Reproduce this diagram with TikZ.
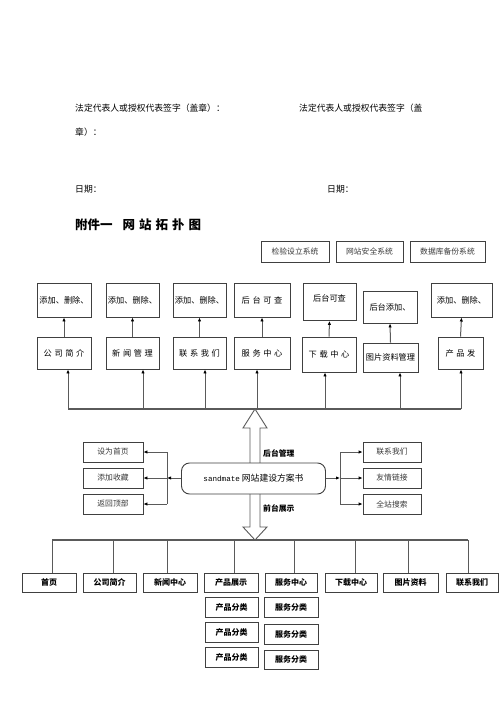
\documentclass[tikz,border=0pt]{standalone}
\usepackage{fontspec}
\setmainfont{Noto Sans CJK SC}
\newfontfamily\monof{Liberation Mono}
\usetikzlibrary{arrows.meta}
\definecolor{boxc}{HTML}{404040}
\definecolor{linec}{HTML}{5A5A5A}
\definecolor{txtg}{HTML}{3A3A3A}
\newcommand{\gp}{\hspace{2.6pt}}
\tikzset{
  bx/.style={draw=boxc, line width=0.9pt, fill=white, inner sep=0pt, font=\fontsize{8.2}{9}\selectfont, text=black},
  smb/.style={draw=boxc, line width=0.8pt, fill=white, inner sep=0pt, font=\fontsize{7.8}{9}\selectfont, text=txtg},
  btm/.style={draw=boxc, line width=1pt, fill=white, inner sep=0pt, font=\fontsize{8}{9}\selectfont\bfseries, text=black},
  conn/.style={draw=linec, line width=1pt, -{Latex[length=4pt,width=3.4pt,color=black]}},
  bus/.style={draw=linec, line width=1.4pt},
  thin/.style={draw=linec, line width=0.9pt},
  lbl/.style={anchor=west, inner sep=0pt, font=\fontsize{8.8}{10}\selectfont}
}
\begin{document}
\begin{tikzpicture}[x=1pt,y=-1pt]
\useasboundingbox (0,0) rectangle (500,708);
\fill[white] (0,0) rectangle (500,708);
% header texts
\node[lbl] (s1) at (75,108) {法定代表人或授权代表签字（盖章）：};
\node[lbl] (s2) at (299,108) {法定代表人或授权代表签字（盖};
\node[lbl] (s3) at (75,132) {章）：};
\node[lbl] (d1) at (75,189) {日期：};
\node[lbl] (d2) at (327,189) {日期：};
\node[anchor=west, inner sep=0pt, font=\fontsize{12.5}{14}\selectfont\bfseries] (title) at (75,225) {附件一\hspace{10pt}网\hspace{4pt}站\hspace{4pt}拓\hspace{4pt}扑\hspace{4pt}图};
% top system boxes
\node[smb, minimum width=68pt, minimum height=21pt] (t1) at (295,251.5) {检验设立系统};
\node[smb, minimum width=67pt, minimum height=21pt] (t2) at (369.5,251.5) {网站安全系统};
\node[smb, minimum width=75pt, minimum height=21pt] (t3) at (447.5,251.5) {数据库备份系统};
% row 1
\node[bx, minimum width=54pt, minimum height=34pt] (r1a) at (64,300) {添加、删除、};
\node[bx, minimum width=53pt, minimum height=34pt] (r1b) at (132.5,300) {添加、删除、};
\node[bx, minimum width=53pt, minimum height=34pt] (r1c) at (199.5,300) {添加、删除、};
\node[bx, minimum width=56pt, minimum height=34pt] (r1d) at (262,300) {后\gp 台\gp 可\gp 查};
\node[bx, minimum width=53pt, minimum height=37pt, anchor=north] (r1e) at (329.5,283) {};
\node[anchor=center, inner sep=0pt, font=\fontsize{8.2}{9}\selectfont, text=black] (r1et) at (329.5,298) {后台可查};
\node[bx, minimum width=54pt, minimum height=32pt] (r1f) at (390,307) {后台添加、};
\node[bx, minimum width=61pt, minimum height=34pt] (r1g) at (461.5,300) {添加、删除、};
% row 2
\node[bx, minimum width=54pt, minimum height=32pt] (r2a) at (64,353) {公\gp 司\gp 简\gp 介};
\node[bx, minimum width=53pt, minimum height=32pt] (r2b) at (132.5,353) {新\gp 闻\gp 管\gp 理};
\node[bx, minimum width=53pt, minimum height=32pt] (r2c) at (199.5,353) {联\gp 系\gp 我\gp 们};
\node[bx, minimum width=56pt, minimum height=32pt] (r2d) at (262,353) {服\gp 务\gp 中\gp 心};
\node[bx, minimum width=54pt, minimum height=35pt] (r2e) at (329,354.5) {下\gp 载\gp 中\gp 心};
\node[bx, minimum width=55pt, minimum height=29pt] (r2f) at (390.5,357.5) {图片资料管理};
\node[bx, minimum width=45pt, minimum height=32pt] (r2g) at (460.5,353) {产\gp 品\gp 发};
% row2 -> row1 arrows
\foreach \n in {a,b,c,d,e,f,g}{\draw[conn] (r2\n.north) -- (r1\n.south);}
% top bus
\coordinate (ba) at (68,409);
\coordinate (bb) at (143,409);
\coordinate (bc) at (205,409);
\coordinate (bd) at (257,409);
\coordinate (be) at (325,409);
\coordinate (bf) at (400,409);
\coordinate (bg) at (461,409);
\draw[bus] (ba) -- (bg);
\foreach \n in {a,b,c,d,e,f,g}{\draw[conn] (b\n) -- (b\n |- r2\n.south);}
% hollow double arrow
\draw[draw=linec, line width=0.9pt, fill=white] (255,409) -- (267,428) -- (260,428) -- (260,527) -- (267,527) -- (255,540) -- (243,527) -- (250,527) -- (250,428) -- (243,428) -- cycle;
\node[anchor=west, inner sep=0pt, font=\fontsize{7.8}{9}\selectfont\bfseries] (lb1) at (263,453) {后台管理};
\node[anchor=west, inner sep=0pt, font=\fontsize{7.8}{9}\selectfont\bfseries] (lb2) at (263,508) {前台展示};
% center box
\node[draw=boxc, line width=0.9pt, fill=white, rounded corners=8pt, minimum width=144pt, minimum height=31pt, inner sep=0pt, font=\fontsize{8.8}{10}\selectfont] (ctr) at (253.5,478.5) {{\monof\fontsize{7.6}{9}\selectfont sandmate} 网站建设方案书};
% left small boxes
\node[smb, minimum width=60pt, minimum height=20pt] (l1) at (113,452) {设为首页};
\node[smb, minimum width=60pt, minimum height=20pt] (l2) at (113,478) {添加收藏};
\node[smb, minimum width=60pt, minimum height=20pt] (l3) at (113,504) {返回顶部};
\coordinate (lj) at (167,478);
\draw[conn] (ctr.west |- lj) -- (lj);
\draw[thin] (lj |- l1) -- (lj |- l3);
\foreach \n in {1,2,3}{\draw[conn] (lj |- l\n) -- (l\n.east);}
% right small boxes
\node[smb, minimum width=58pt, minimum height=20pt] (q1) at (392,452) {联系我们};
\node[smb, minimum width=58pt, minimum height=20pt] (q2) at (392,478) {友情链接};
\node[smb, minimum width=58pt, minimum height=20pt] (q3) at (392,504) {全站搜索};
\coordinate (rj) at (340,478);
\draw[conn] (ctr.east |- rj) -- (rj);
\draw[thin] (rj |- q1) -- (rj |- q3);
\foreach \n in {1,2,3}{\draw[conn] (rj |- q\n) -- (q\n.west);}
% bottom bus and boxes
\node[btm, minimum width=54pt, minimum height=19pt] (p1) at (49,582.5) {首页};
\node[btm, minimum width=53pt, minimum height=19pt] (p2) at (109.5,582.5) {公司简介};
\node[btm, minimum width=54pt, minimum height=19pt] (p3) at (170,582.5) {新闻中心};
\node[btm, minimum width=54pt, minimum height=19pt] (p4) at (231,582.5) {产品展示};
\node[btm, minimum width=52pt, minimum height=19pt] (p5) at (291,582.5) {服务中心};
\node[btm, minimum width=52pt, minimum height=19pt] (p6) at (351,582.5) {下载中心};
\node[btm, minimum width=55pt, minimum height=19pt] (p7) at (410.5,582.5) {图片资料};
\node[btm, minimum width=52pt, minimum height=19pt] (p8) at (472,582.5) {联系我们};
\coordinate (c1) at (52,540);
\coordinate (c2) at (113,540);
\coordinate (c3) at (167,540);
\coordinate (c4) at (234,540);
\coordinate (c5) at (294,540);
\coordinate (c6) at (355,540);
\coordinate (c7) at (408,540);
\coordinate (c8) at (468,540);
\draw[bus] (c1) -- (c8);
\foreach \n in {1,...,8}{\draw[thin] (c\n) -- (c\n |- p\n.north);}
% sub boxes
\node[btm, minimum width=53pt, minimum height=20pt] (u1) at (231.5,607) {产品分类};
\node[btm, minimum width=53pt, minimum height=20pt] (u2) at (231.5,632) {产品分类};
\node[btm, minimum width=53pt, minimum height=20pt] (u3) at (231.5,657) {产品分类};
\node[btm, minimum width=54pt, minimum height=20pt] (v1) at (291,607) {服务分类};
\node[btm, minimum width=54pt, minimum height=20pt] (v2) at (291,634.5) {服务分类};
\node[btm, minimum width=54pt, minimum height=19pt] (v3) at (291,659.5) {服务分类};
\end{tikzpicture}
\end{document}
